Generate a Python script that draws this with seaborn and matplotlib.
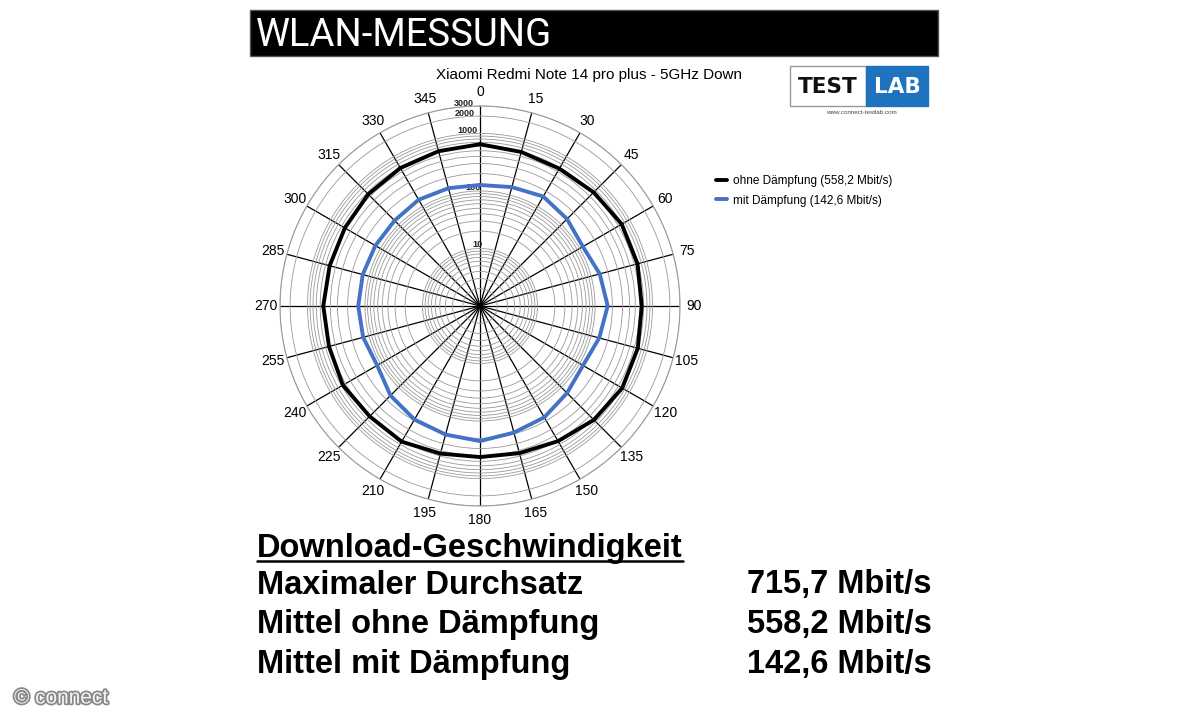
import numpy as np
import pandas as pd
import matplotlib
matplotlib.use("Agg")
import matplotlib.pyplot as plt
import matplotlib.patheffects as pe
from matplotlib.patches import Rectangle
from matplotlib.lines import Line2D
from matplotlib.ticker import NullLocator
import seaborn as sns

# data (Mbit/s per direction, log radial axis)
angles = list(range(0, 360, 15))
ohne = [649, 592, 573, 623, 700, 684, 649, 692, 715.7, 631, 517, 445,
        423, 454, 529, 517, 566, 523, 531, 508, 517, 560, 589, 611]
mit = [127, 138, 158, 138, 116, 143, 166, 140, 117, 138, 172, 190,
       223, 206, 190, 159, 116, 127, 131, 129, 126, 126, 136, 132]
series_names = ["ohne Dämpfung (558,2 Mbit/s)", "mit Dämpfung (142,6 Mbit/s)"]
series_colors = ["black", "#4472C4"]
r_labels = {10: "10", 100: "100", 1000: "1000", 2000: "2000", 3000: "3000"}

chart_title = "Xiaomi Redmi Note 14 pro plus - 5GHz Down"
header = "WLAN-MESSUNG"
stat_title = "Download-Geschwindigkeit"
stat_labels = ["Maximaler Durchsatz", "Mittel ohne Dämpfung", "Mittel mit Dämpfung"]
stat_values = ["715,7 Mbit/s", "558,2 Mbit/s", "142,6 Mbit/s"]

sns.set_style("white")
plt.rcParams["font.family"] = ["Liberation Sans", "DejaVu Sans"]
plt.rcParams["text.color"] = "black"
plt.rcParams["xtick.color"] = "black"
plt.rcParams["ytick.color"] = "black"

W, H = 1200, 720
def px(x, y):
    return x / W, 1 - y / H

# closed polygons: repeat first point at 360 deg
rows = []
for name, vals in zip(series_names, [ohne, mit]):
    for a, v in zip(angles + [360], vals + [vals[0]]):
        rows.append({"series": name, "theta": np.deg2rad(a), "mbit": v})
df = pd.DataFrame(rows)

fig = plt.figure(figsize=(12, 7.2), dpi=100)
fig.patch.set_facecolor("white")

cx, cy, rad = 480, 306, 200
ax = fig.add_axes([(cx - rad) / W, 1 - (cy + rad) / H, 2 * rad / W, 2 * rad / H],
                  projection="polar")
ax.set_theta_zero_location("N")
ax.set_theta_direction(-1)
ax.set_rscale("log")

sns.lineplot(data=df, x="theta", y="mbit", hue="series",
             palette=dict(zip(series_names, series_colors)),
             sort=False, estimator=None, linewidth=2.8, ax=ax)
ax.set_rlim(1, 3000)
ax.set_xlabel("")
ax.set_ylabel("")

# grids
grid_vals = [m * 10 ** e for e in range(3) for m in range(1, 10)][1:] + [1000, 2000, 3000]
ax.set_yticks(grid_vals)
ax.set_yticklabels([r_labels.get(v, "") for v in grid_vals], fontsize=6.5,
                   fontweight="bold", color="#222")
ax.yaxis.set_minor_locator(NullLocator())
ax.set_rlabel_position(352.5)
ax.set_xticks(np.deg2rad(angles))
ax.set_xticklabels([str(a) for a in angles], fontsize=10)
ax.yaxis.grid(True, color="#999999", linewidth=0.6)
ax.xaxis.grid(True, color="black", linewidth=0.9)
ax.tick_params(axis="x", direction="out", length=7, width=0.9, color="black", pad=-4)
ax.spines["polar"].set_color("#999999")
ax.spines["polar"].set_linewidth(0.8)

handles, labels = ax.get_legend_handles_labels()
ax.legend(handles, labels, loc="center left", bbox_to_anchor=px(705, 191),
          bbox_transform=fig.transFigure, frameon=False, fontsize=8.5,
          handlelength=1.0, labelspacing=0.6, handletextpad=0.5)

fig.text(*px(589, 75), chart_title, ha="center", va="center", fontsize=11)

# header bar
fig.add_artist(Rectangle(px(250, 56), 688 / W, 46 / H, transform=fig.transFigure,
                         facecolor="black", edgecolor="#555", linewidth=1))
fig.text(*px(256, 35), header, color="white", fontsize=27.5, ha="left", va="center",
         family=["Roboto", "DejaVu Sans"])

# logo
fig.add_artist(Rectangle(px(790, 106), 76 / W, 40 / H, transform=fig.transFigure,
                         facecolor="white", edgecolor="#999", linewidth=1))
fig.add_artist(Rectangle(px(866, 106), 62 / W, 40 / H, transform=fig.transFigure,
                         facecolor="#1f72bd", edgecolor="#1f72bd", linewidth=1))
fig.text(*px(828, 87), "TEST", fontsize=15.5, fontweight="bold", ha="center",
         va="center", family=["DejaVu Sans"], color="#111")
fig.text(*px(897, 87), "LAB", fontsize=15.5, fontweight="bold", ha="center",
         va="center", family=["DejaVu Sans"], color="white")
fig.text(*px(861, 112), "www.connect-testlab.com", fontsize=4.5, ha="center",
         va="center", color="#444")

# stats block
t = fig.text(*px(257, 548), stat_title, fontsize=23.5, fontweight="bold",
             ha="left", va="center")
for i, (lab, val) in enumerate(zip(stat_labels, stat_values)):
    y = 585 + i * 39.5
    fig.text(*px(257, y), lab, fontsize=23.5, fontweight="bold", ha="left",
             va="center")
    fig.text(*px(932, y), val, fontsize=23.5, fontweight="bold", ha="right",
             va="center")

fig.canvas.draw()
bb = t.get_window_extent()
fig.add_artist(Line2D([bb.x0 / W, bb.x1 / W], [1 - 561 / H] * 2,
                      transform=fig.transFigure, color="black", linewidth=1.8))

fig.text(*px(14, 698), "© connect", fontsize=15, color="#f4f4f4", ha="left",
         va="center", path_effects=[pe.withStroke(linewidth=2.5, foreground="#888")])

fig.savefig("out.png", dpi=100)
